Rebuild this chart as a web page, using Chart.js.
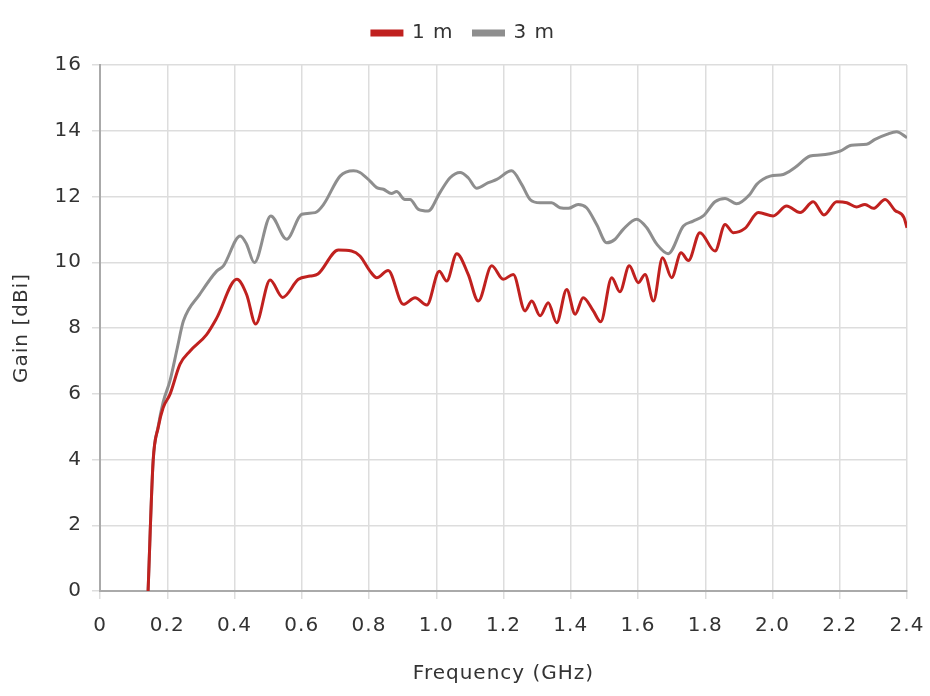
<!DOCTYPE html>
<html>
<head>
<meta charset="utf-8">
<script src="https://cdn.jsdelivr.net/npm/chart.js@4"></script>
<style>
html,body{margin:0;padding:0;background:#fff;}
#wrap{width:930px;height:696px;}
</style>
</head>
<body>
<div id="wrap"><canvas id="c" width="930" height="696"></canvas></div>
<script>
const seriesNames = ["1 m", "3 m"];
const xTicks = [0, 0.2, 0.4, 0.6, 0.8, 1.0, 1.2, 1.4, 1.6, 1.8, 2.0, 2.2, 2.4];
const yTicks = [0, 2, 4, 6, 8, 10, 12, 14, 16];

const freq1 = [0.143,0.158,0.173,0.188,0.208,0.238,0.268,0.317,0.347,0.407,0.436,0.463,0.506,0.543,0.590,0.625,0.648,0.709,0.748,0.773,0.803,0.823,0.857,0.902,0.937,0.972,1.009,1.031,1.061,1.095,1.125,1.165,1.199,1.229,1.264,1.284,1.309,1.333,1.358,1.388,1.413,1.437,1.467,1.489,1.522,1.546,1.574,1.601,1.621,1.646,1.673,1.700,1.728,1.750,1.784,1.829,1.859,1.883,1.918,1.958,2.002,2.042,2.082,2.121,2.153,2.191,2.221,2.250,2.275,2.300,2.335,2.364,2.391,2.400];
const gain1 = [0,3.95,4.97,5.58,5.98,6.9,7.3,7.8,8.3,9.48,9.02,8.12,9.46,8.93,9.48,9.58,9.64,10.37,10.34,10.19,9.73,9.53,9.75,8.72,8.92,8.70,9.73,9.43,10.26,9.63,8.82,9.89,9.48,9.63,8.52,8.82,8.37,8.77,8.16,9.17,8.42,8.92,8.52,8.19,9.53,9.10,9.89,9.38,9.63,8.82,10.14,9.53,10.29,10.05,10.90,10.34,11.15,10.90,11.03,11.51,11.41,11.71,11.51,11.84,11.44,11.84,11.81,11.68,11.76,11.64,11.91,11.58,11.36,11.05];

const freq3 = [0.143,0.158,0.173,0.188,0.208,0.230,0.248,0.297,0.347,0.367,0.417,0.436,0.459,0.508,0.555,0.600,0.640,0.665,0.714,0.754,0.773,0.803,0.823,0.843,0.867,0.882,0.907,0.922,0.947,0.976,1.011,1.041,1.071,1.095,1.120,1.155,1.180,1.224,1.254,1.279,1.309,1.343,1.368,1.393,1.422,1.447,1.477,1.507,1.532,1.556,1.596,1.626,1.656,1.690,1.735,1.764,1.794,1.829,1.859,1.893,1.933,1.953,1.993,2.032,2.067,2.112,2.141,2.171,2.201,2.235,2.280,2.305,2.340,2.369,2.400];
const gain3 = [0,3.95,5.0,5.75,6.39,7.4,8.21,9.03,9.73,9.89,10.8,10.55,9.99,11.41,10.7,11.46,11.51,11.76,12.62,12.78,12.73,12.47,12.27,12.22,12.09,12.15,11.91,11.91,11.61,11.56,12.12,12.57,12.73,12.57,12.25,12.42,12.52,12.78,12.37,11.91,11.81,11.81,11.66,11.64,11.76,11.66,11.15,10.59,10.70,11.0,11.31,11.05,10.55,10.26,11.10,11.25,11.41,11.84,11.94,11.78,12.07,12.37,12.62,12.67,12.88,13.23,13.26,13.30,13.38,13.56,13.59,13.74,13.89,13.97,13.79];

const toPts = (xs, ys) => xs.map((x, i) => ({x: x, y: ys[i]}));

const FONT = "'DejaVu Sans', sans-serif";
const TXT = '#333333';
const F = {family: FONT, size: 20, weight: 'normal'};

const setSpacing = chart => { try { chart.ctx.letterSpacing = '1px'; } catch (e) {} };
const spacingPlugin = {
  id: 'spacing',
  beforeInit(chart) {
    const lg = chart.legend;
    if (lg) {
      const orig = lg.fit;
      lg.fit = function () { orig.call(this); this.height += 12; };
    }
  },
  beforeUpdate: setSpacing,
  beforeLayout: setSpacing,
  afterLayout(chart) {
    const lg = chart.legend;
    if (lg) { lg.left += 10; lg.right += 10; }
  },
  beforeDraw: setSpacing
};

new Chart(document.getElementById('c'), {
  type: 'line',
  plugins: [spacingPlugin],
  data: {
    datasets: [
      {label: seriesNames[0], data: toPts(freq1, gain1), borderColor: '#c0211f', backgroundColor: '#c0211f', borderWidth: 3, pointRadius: 0, tension: 0.4, cubicInterpolationMode: 'monotone', fill: false},
      {label: seriesNames[1], data: toPts(freq3, gain3), borderColor: '#8e8e8e', backgroundColor: '#8e8e8e', borderWidth: 3, pointRadius: 0, tension: 0.4, cubicInterpolationMode: 'monotone', fill: false}
    ]
  },
  options: {
    responsive: false,
    animation: false,
    devicePixelRatio: 1,
    layout: {padding: {left: 0, right: 23, top: 3, bottom: 10}},
    plugins: {
      legend: {
        position: 'top',
        labels: {boxWidth: 30, boxHeight: 4, color: TXT, font: F, padding: 20}
      },
      tooltip: {enabled: false}
    },
    scales: {
      x: {
        type: 'linear', min: 0, max: 2.4,
        afterBuildTicks: s => { s.ticks = xTicks.map(v => ({value: v})); },
        afterFit: s => { s.paddingRight = 0; s.paddingLeft = 0; },
        ticks: {color: TXT, font: F, padding: 15, maxRotation: 0,
          callback: v => v === 0 ? '0' : v.toFixed(1)},
        grid: {color: '#dddddd', lineWidth: 1.5, tickLength: 8, tickColor: '#dddddd'},
        border: {color: '#aaaaaa', width: 2},
        title: {display: true, text: 'Frequency (GHz)', color: TXT, font: F, padding: {top: 9, bottom: 0}}
      },
      y: {
        type: 'linear', min: 0, max: 16,
        afterBuildTicks: s => { s.ticks = yTicks.map(v => ({value: v})); },
        ticks: {color: TXT, font: F, padding: 10},
        grid: {color: '#dddddd', lineWidth: 1.5, tickLength: 8, tickColor: '#dddddd'},
        border: {color: '#aaaaaa', width: 2},
        title: {display: true, text: 'Gain [dBi]', color: TXT, font: F, padding: {top: 10, bottom: 12}},
        afterFit: s => { s.width = 100; }
      }
    }
  }
});
</script>
</body>
</html>
